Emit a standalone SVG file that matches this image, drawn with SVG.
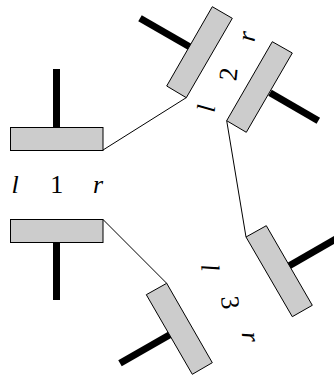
<svg xmlns="http://www.w3.org/2000/svg" width="334" height="377" viewBox="0 0 334 377">
<style>
.b{fill:#ccc;stroke:#000;stroke-width:1}
.s{stroke:#000;stroke-width:7;fill:none}
.c{stroke:#000;stroke-width:1;fill:none}
text{font-family:"Liberation Serif",serif;font-size:26px;text-anchor:middle;fill:#000}
.i{font-style:italic}
</style>
<rect width="334" height="377" fill="#fff"/>
<g id="connectors">
<path class="c" d="M103 150L186.500 97.500"/>
<path class="c" d="M226.700 120.700L246 237"/>
<path class="c" d="M103 219.500L166.700 283.300"/>
</g>
<g id="node-1-top"><path class="s" d="M56.500 69V127"/><rect class="b" x="10.500" y="127.500" width="92.500" height="23"/></g>
<g id="node-1-bottom"><path class="s" d="M56.500 242V300"/><rect class="b" x="10.500" y="219.500" width="92.500" height="23"/></g>
<g id="node-2-left"><path class="s" d="M140 18.300L190 47"/><path class="b" d="M212.300 6.700L232.300 18.300L186.300 97.700L166.700 86Z"/></g>
<g id="node-2-right"><path class="s" d="M318.300 120.700L270 92.700"/><path class="b" d="M272.300 41.700L292.300 53L246.300 132.300L226.700 120.700Z"/></g>
<g id="node-3-right"><path class="s" d="M340 236.500L288 266.500"/><path class="b" d="M266.300 225.700L246 237L292.300 316.700L312.300 305.300Z"/></g>
<g id="node-3-left"><path class="s" d="M120 363.300L172 333.500"/><path class="b" d="M166.700 283.300L146.300 294.700L192.300 374.300L212.300 362.700Z"/></g>
<g id="labels">
<text class="i" x="15" y="193">l</text>
<text x="56.700" y="193">1</text>
<text class="i" x="98" y="193">r</text>
<text class="i" transform="translate(214.900 109.400) rotate(-84)">l</text>
<text transform="translate(236.900 75.100) rotate(-84)">2</text>
<text class="i" transform="translate(255.100 37.200) rotate(-84)">r</text>
<text class="i" transform="translate(201.400 268.400) rotate(84)">l</text>
<text transform="translate(221.700 303.400) rotate(84)">3</text>
<text class="i" transform="translate(242.200 337.900) rotate(84)">r</text>
</g>
</svg>
